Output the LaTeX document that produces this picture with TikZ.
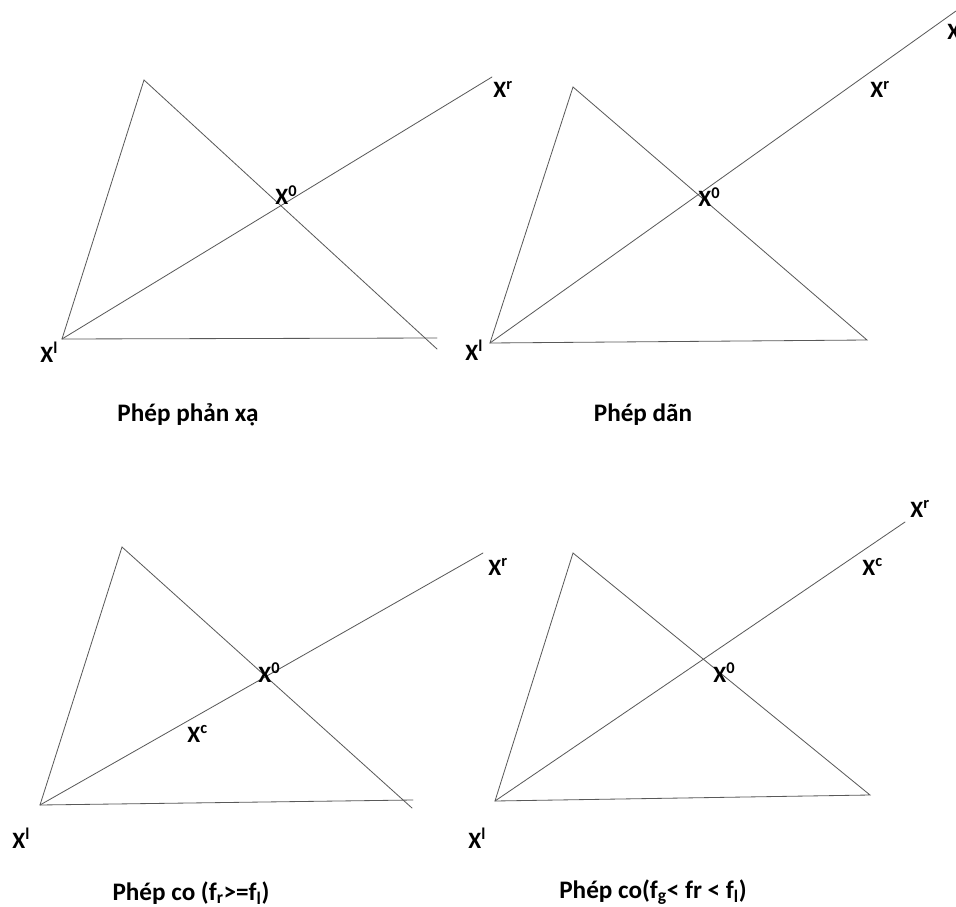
\documentclass[tikz,border=0pt]{standalone}
\usepackage{fontspec}
\setmainfont{Carlito}
\tikzset{
  every picture/.style={line width=0.7pt},
  edge/.style={draw=black!65, line cap=round},
  lab/.style={font=\bfseries\fontsize{20}{24}\selectfont, inner sep=0pt, anchor=base west},
  caption/.style={font=\bfseries\fontsize{21.5}{26}\selectfont, inner sep=0pt, anchor=base},
}

\begin{document}
\begin{tikzpicture}[x=0.03cm, y=-0.03cm]
  \useasboundingbox (0,0) rectangle (956,907);
  % reflection
  \coordinate (rl) at (62,339);
  \coordinate (rt) at (144,80);
  \coordinate (rb) at (437,338);
  \coordinate (rd) at (437,349);
  \coordinate (rr) at (492,77);
  \draw[edge] (rl) -- (rt) -- (rd);
  \draw[edge] (rl) -- (rb);
  \draw[edge] (rl) -- (rr);
  \node[lab] (rxl) at (40,362) {X\textsuperscript{l}};
  \node[lab] (rx0) at (275,205) {X\textsuperscript{0}};
  \node[lab] (rxr) at (493,98) {X\textsuperscript{r}};
  \node[caption] (rcap) at (188,421) {Phép phản xạ};
  % expansion
  \coordinate (dl) at (490,343);
  \coordinate (dt) at (573,87);
  \coordinate (db) at (867,340);
  \coordinate (dr) at (956,11);
  \draw[edge] (dl) -- (dt) -- (db) -- cycle;
  \draw[edge] (dl) -- (dr);
  \node[lab] (dxl) at (465,360) {X\textsuperscript{l}};
  \node[lab] (dx0) at (698,207) {X\textsuperscript{0}};
  \node[lab] (dxr) at (870,98) {X\textsuperscript{r}};
  \node[lab] (dxe) at (947,40) {X};
  \node[caption] (dcap) at (643,421) {Phép dãn};
  % outside contraction
  \coordinate (cl) at (40,805);
  \coordinate (ct) at (122,547);
  \coordinate (cb) at (413,800);
  \coordinate (cd) at (412,808);
  \coordinate (cr) at (483,553);
  \draw[edge] (cl) -- (ct) -- (cd);
  \draw[edge] (cl) -- (cb);
  \draw[edge] (cl) -- (cr);
  \node[lab] (cxl) at (12,848) {X\textsuperscript{l}};
  \node[lab] (cx0) at (258,682) {X\textsuperscript{0}};
  \node[lab] (cxc) at (187,742) {X\textsuperscript{c}};
  \node[lab] (cxr) at (488,575) {X\textsuperscript{r}};
  \node[caption] (ccap) at (191,900) {Phép co (f\textsubscript{r}>=f\textsubscript{l})};
  % inside contraction
  \coordinate (gl) at (495,801);
  \coordinate (gt) at (573,553);
  \coordinate (gb) at (870,795);
  \coordinate (gr) at (905,522);
  \draw[edge] (gl) -- (gt) -- (gb) -- cycle;
  \draw[edge] (gl) -- (gr);
  \node[lab] (gxl) at (468,848) {X\textsuperscript{l}};
  \node[lab] (gx0) at (713,682) {X\textsuperscript{0}};
  \node[lab] (gxc) at (862,575) {X\textsuperscript{c}};
  \node[lab] (gxr) at (910,517) {X\textsuperscript{r}};
  \node[caption] (gcap) at (653,898) {Phép co(f\textsubscript{g}< fr < f\textsubscript{l})};
\end{tikzpicture}
\end{document}
